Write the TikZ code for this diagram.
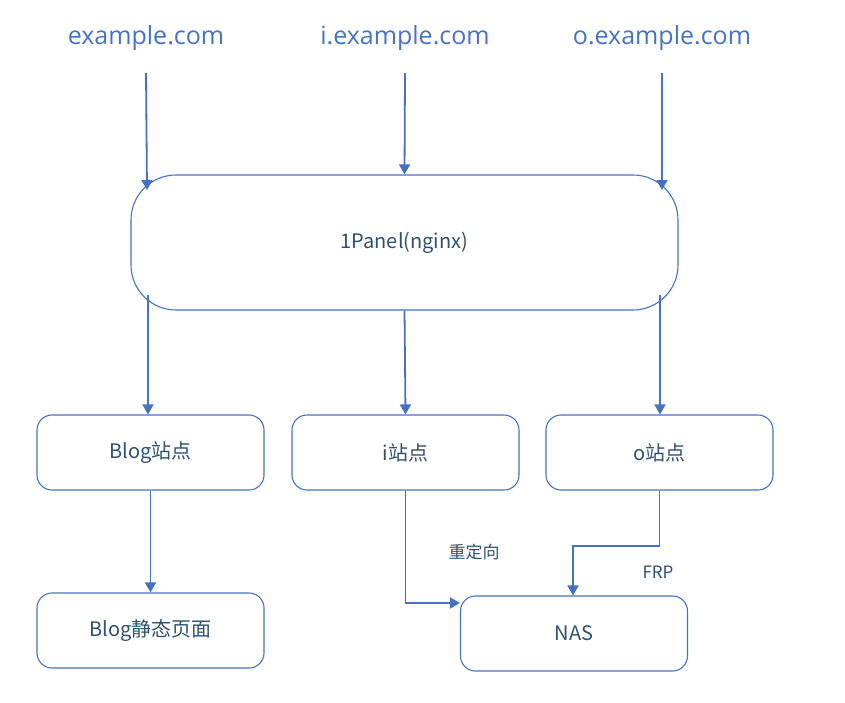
\documentclass[tikz,border=0pt]{standalone}
\usepackage{fontspec}
\setmainfont{Open Sans}
\newfontfamily\cjk{Noto Sans CJK SC}
\usetikzlibrary{arrows.meta,calc}
\definecolor{bl}{HTML}{4472C4}
\definecolor{tx}{HTML}{2F5070}
\begin{document}
\begin{tikzpicture}[x=1pt,y=-1pt,
  lbl/.style={text=bl,font=\fontsize{25}{28}\selectfont},
  box/.style={draw=bl,line width=1.1pt,rounded corners=15pt,minimum width=227pt,minimum height=75pt,text=tx,font=\cjk\fontsize{20}{24}\selectfont},
  arr/.style={draw=bl,line width=1.8pt,-{Triangle[length=10pt,width=11pt]}},
  small/.style={text=tx,font=\cjk\fontsize{17}{20}\selectfont}]
\useasboundingbox (0,0) rectangle (845,702);
\node[lbl] (t1) at (146,38) {example.com};
\node[lbl] (t2) at (405,38) {i.example.com};
\node[lbl] (t3) at (662,38) {o.example.com};
\node[box,rounded corners=45pt,minimum width=547pt,minimum height=135pt] (big) at (404.5,242.5) {1Panel(nginx)};
\node[box] (b1) at (150.5,452.5) {Blog站点};
\node[box] (b2) at (405.5,452.5) {i站点};
\node[box] (b3) at (659.5,452.5) {o站点};
\node[box] (b4) at (150.5,630.5) {Blog静态页面};
\node[box] (nas) at (574,633.5) {NAS};
\coordinate (e1) at (147,190);
\coordinate (e3) at (662,190);
\coordinate (s1) at (148,295);
\coordinate (s3) at (660,295);
\draw[arr] (t1.south |- 0,73) -- (e1);
\draw[arr] (t2.south |- 0,73) -- (big.north);
\draw[arr] (t3.south |- 0,73) -- (e3);
\draw[arr] (s1) -- (s1 |- b1.north);
\draw[arr] (big.south) -- (b2.north);
\draw[arr] (s3) -- (s3 |- b3.north);
\draw[arr] (b1.south) -- (b4.north);
\draw[arr] (b2.south) |- (nas.west |- 0,603);
\coordinate (f1) at (573,546);
\draw[arr] (b3.south) -- (b3.south |- f1) -- (f1) -- (f1 |- nas.north);
\node[small] (l1) at (474,552) {重定向};
\node[small] (l2) at (658,572) {FRP};
\end{tikzpicture}
\end{document}
